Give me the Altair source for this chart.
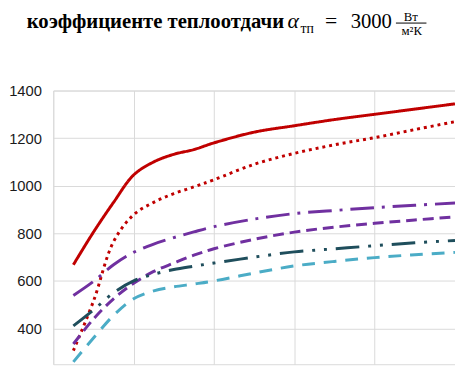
import altair as alt
import pandas as pd

# x positions (gridlines at 0..5), y values
x_vals = [0.25, 0.5, 0.75, 1.0, 1.25, 1.5, 1.75, 2.0, 2.5, 3.0, 3.5, 4.0, 4.5, 5.0]

red_solid   = [668, 805, 930, 1045, 1100, 1132, 1152, 1180, 1225, 1252, 1278, 1300, 1322, 1344]
red_dotted  = [307, 515, 765, 878, 930, 967, 995, 1025, 1090, 1136, 1172, 1202, 1236, 1269]
purple_dd   = [539, 598, 668, 720, 755, 782, 806, 828, 860, 883, 896, 908, 918, 927]
purple_dash = [335, 440, 525, 590, 640, 675, 708, 735, 775, 805, 826, 842, 856, 869]
teal_ddd    = [411, 478, 550, 600, 628, 648, 662, 675, 700, 722, 735, 748, 760, 770]
cyan_dash   = [260, 360, 455, 525, 558, 575, 587, 600, 633, 663, 682, 698, 710, 720]

series_names = ["s1", "s2", "s3", "s4", "s5", "s6"]
series_vals = [red_solid, red_dotted, purple_dd, purple_dash, teal_ddd, cyan_dash]
colors = ["#C00000", "#C00000", "#7030A0", "#7030A0", "#1F4E5C", "#4BACC6"]
dashes = [[1, 0], [3, 4], [24, 8, 3, 8], [11, 6], [24, 9, 3, 9, 3, 9], [13, 9]]

y_ticks = [400, 600, 800, 1000, 1200, 1400]
x_ticks = [0, 1, 2, 3, 4, 5]

rows = []
for name, vals in zip(series_names, series_vals):
    for xv, yv in zip(x_vals, vals):
        rows.append({"x": xv, "y": yv, "series": name})
df = pd.DataFrame(rows)

lines = alt.Chart(df).mark_line(strokeWidth=3, interpolate="catmull-rom", clip=True).encode(
    x=alt.X("x:Q", scale=alt.Scale(domain=[0, 5], nice=False, zero=False),
            axis=alt.Axis(values=x_ticks, grid=True, labels=False, ticks=False,
                          domain=False, title=None, gridColor="#D9D9D9", gridWidth=1)),
    y=alt.Y("y:Q", scale=alt.Scale(domain=[250, 1400], nice=False, zero=False),
            axis=alt.Axis(values=y_ticks, format="d", grid=True, ticks=False, domain=False, title=None,
                          labelPadding=12, labelFont="Liberation Sans",
                          labelFontSize=15, labelColor="#1a1a1a", gridColor="#D9D9D9", gridWidth=1)),
    color=alt.Color("series:N", scale=alt.Scale(domain=series_names, range=colors), legend=None),
    strokeDash=alt.StrokeDash("series:N", scale=alt.Scale(domain=series_names, range=dashes), legend=None),
    detail="series:N",
)

one = alt.Data(values=[{}])
serif = "Liberation Serif"

def txt(text, x, y, size, weight="normal", style="normal", align="left", baseline="alphabetic"):
    return alt.Chart(one).mark_text(
        text=text, font=serif, fontSize=size, fontWeight=weight, fontStyle=style,
        align=align, baseline=baseline, color="#000000"
    ).encode(x=alt.value(x), y=alt.value(y))

ox, oy = 54, 89
t_main = txt("коэффициенте теплоотдачи", 27 - ox, 25 - oy, 21, weight="bold")
t_alpha = txt("α", 292 - ox, 25 - oy, 22, style="italic")
t_sub = txt("тп", 305 - ox, 31 - oy, 14)
t_eq = txt("=", 330 - ox, 25 - oy, 22)
t_3000 = txt("3000", 356 - ox, 26 - oy, 21)
t_num = txt("Вт", 417 - ox, 18 - oy, 13, align="center")
t_den = txt("м²К", 418 - ox, 33 - oy, 13, align="center")
frac_line = alt.Chart(one).mark_rule(color="#000000", strokeWidth=1).encode(
    x=alt.value(402 - ox), x2=alt.value(433 - ox), y=alt.value(20.5 - oy)
)

chart = alt.layer(lines, t_main, t_alpha, t_sub, t_eq, t_3000, t_num, t_den, frac_line).properties(
    width=408, height=278,
    autosize=alt.AutoSizeParams(type="none"),
    padding={"left": 46, "top": 81, "right": 0, "bottom": 0},
).configure_view(stroke="#D9D9D9", strokeWidth=1)

chart.save("out.html", embed_options={"renderer": "svg", "actions": False})
